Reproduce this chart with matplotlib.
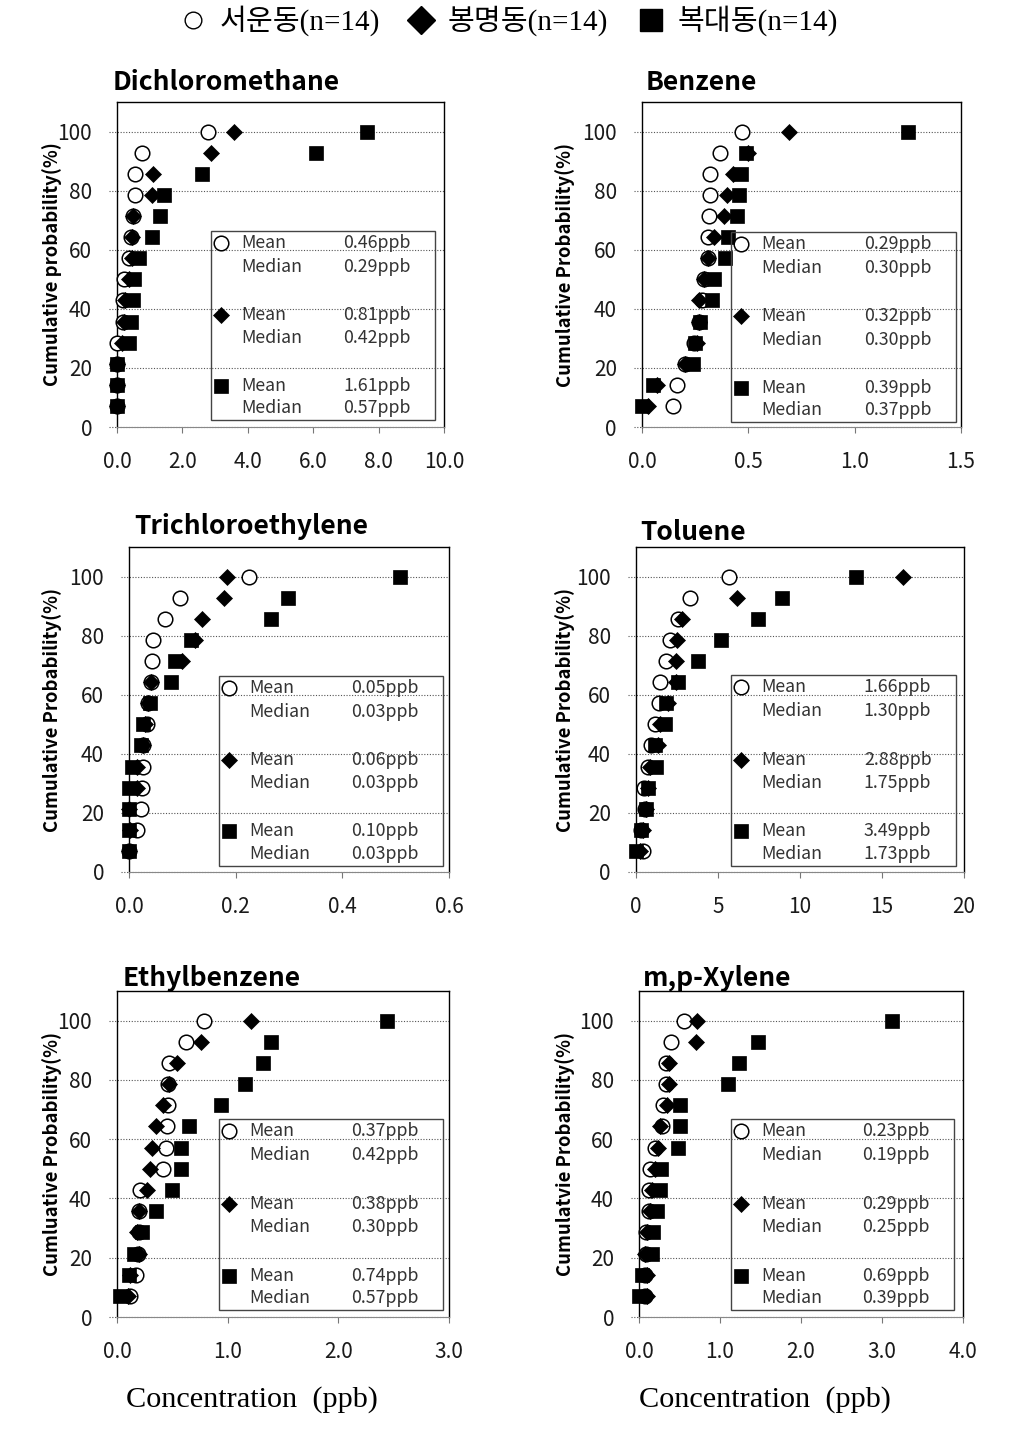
import matplotlib
matplotlib.use("Agg")
import matplotlib.pyplot as plt
from matplotlib.lines import Line2D
from matplotlib.patches import Rectangle

W, H = 1011, 1434

# cumulative probability levels (%), 14 samples per site
cum_prob = [7.1, 14.3, 21.4, 28.6, 35.7, 42.9, 50.0, 57.1, 64.3, 71.4, 78.6, 85.7, 92.9, 100.0]

site_names = ["서운동(n=14)", "봉명동(n=14)", "복대동(n=14)"]

# Dichloromethane
dcm_seoun = [0.0, 0.0, 0.0, 0.0, 0.18, 0.18, 0.21, 0.36, 0.44, 0.48, 0.55, 0.55, 0.75, 2.79]
dcm_bongmyeong = [0.0, 0.0, 0.0, 0.15, 0.2, 0.25, 0.38, 0.46, 0.47, 0.5, 1.08, 1.1, 2.87, 3.57]
dcm_bokdae = [0.0, 0.0, 0.0, 0.36, 0.44, 0.49, 0.51, 0.66, 1.07, 1.31, 1.43, 2.61, 6.08, 7.65]
dcm_stats = [("0.46ppb", "0.29ppb"), ("0.81ppb", "0.42ppb"), ("1.61ppb", "0.57ppb")]

# Benzene
bz_seoun = [0.146, 0.165, 0.2, 0.243, 0.27, 0.28, 0.29, 0.31, 0.31, 0.315, 0.32, 0.32, 0.366, 0.47]
bz_bongmyeong = [0.028, 0.07, 0.2, 0.26, 0.27, 0.27, 0.29, 0.31, 0.34, 0.385, 0.4, 0.43, 0.5, 0.69]
bz_bokdae = [0.0, 0.05, 0.24, 0.25, 0.275, 0.33, 0.34, 0.39, 0.405, 0.445, 0.455, 0.465, 0.49, 1.25]
bz_stats = [("0.29ppb", "0.30ppb"), ("0.32ppb", "0.30ppb"), ("0.39ppb", "0.37ppb")]

# Trichloroethylene
tce_seoun = [0.0, 0.015, 0.022, 0.025, 0.026, 0.026, 0.034, 0.036, 0.042, 0.043, 0.045, 0.068, 0.096, 0.225]
tce_bongmyeong = [0.0, 0.001, 0.0, 0.015, 0.015, 0.026, 0.03, 0.036, 0.042, 0.1, 0.123, 0.137, 0.178, 0.183]
tce_bokdae = [0.0, 0.0, 0.0, 0.0, 0.006, 0.022, 0.026, 0.04, 0.078, 0.087, 0.117, 0.267, 0.298, 0.508]
tce_stats = [("0.05ppb", "0.03ppb"), ("0.06ppb", "0.03ppb"), ("0.10ppb", "0.03ppb")]

# Toluene
tol_seoun = [0.43, 0.33, 0.53, 0.47, 0.73, 0.94, 1.14, 1.4, 1.49, 1.81, 2.05, 2.56, 3.32, 5.66]
tol_bongmyeong = [0.22, 0.43, 0.63, 0.73, 0.83, 1.34, 1.44, 1.95, 2.42, 2.46, 2.5, 2.83, 6.16, 16.3]
tol_bokdae = [0.0, 0.33, 0.63, 0.73, 1.24, 1.14, 1.75, 1.81, 2.56, 3.78, 5.17, 7.45, 8.91, 13.4]
tol_stats = [("1.66ppb", "1.30ppb"), ("2.88ppb", "1.75ppb"), ("3.49ppb", "1.73ppb")]

# Ethylbenzene
eb_seoun = [0.12, 0.17, 0.19, 0.2, 0.2, 0.21, 0.42, 0.44, 0.45, 0.46, 0.46, 0.47, 0.62, 0.79]
eb_bongmyeong = [0.1, 0.12, 0.2, 0.18, 0.2, 0.27, 0.3, 0.32, 0.35, 0.42, 0.47, 0.54, 0.76, 1.21]
eb_bokdae = [0.03, 0.11, 0.15, 0.23, 0.35, 0.5, 0.58, 0.58, 0.65, 0.94, 1.16, 1.32, 1.39, 2.44]
eb_stats = [("0.37ppb", "0.42ppb"), ("0.38ppb", "0.30ppb"), ("0.74ppb", "0.57ppb")]

# m,p-Xylene
xy_seoun = [0.08, 0.08, 0.09, 0.09, 0.12, 0.12, 0.14, 0.2, 0.28, 0.3, 0.33, 0.33, 0.4, 0.55]
xy_bongmyeong = [0.1, 0.1, 0.08, 0.1, 0.13, 0.16, 0.2, 0.24, 0.26, 0.35, 0.37, 0.37, 0.7, 0.72]
xy_bokdae = [0.0, 0.04, 0.16, 0.17, 0.22, 0.26, 0.27, 0.48, 0.51, 0.51, 1.1, 1.24, 1.47, 3.12]
xy_stats = [("0.23ppb", "0.19ppb"), ("0.29ppb", "0.25ppb"), ("0.69ppb", "0.39ppb")]

SANS = ["Noto Sans CJK KR", "DejaVu Sans"]
SERIF = ["Liberation Serif", "Noto Sans CJK KR"]

# panel layout in pixels: (left, right, top, bottom), title (x, y), ylabel x, inset box (x0, x1, ytop, ybot) in axes frac
panels = [
    dict(title="Dichloromethane", ylabel="Cumulative probability(%)", box=(117, 444, 102, 427),
         tpos=(113, 83), ylx=52, inset=(0.287, 0.972, 0.603, 0.022),
         xlim=(0, 10), xticks=[0, 2, 4, 6, 8, 10], fmt="{:.1f}",
         data=(dcm_seoun, dcm_bongmyeong, dcm_bokdae), stats=dcm_stats),
    dict(title="Benzene", ylabel="Cumulative Probability(%)", box=(642, 961, 102, 427),
         tpos=(646, 82), ylx=565, inset=(0.279, 0.984, 0.600, 0.015),
         xlim=(0, 1.5), xticks=[0, 0.5, 1.0, 1.5], fmt="{:.1f}",
         data=(bz_seoun, bz_bongmyeong, bz_bokdae), stats=bz_stats),
    dict(title="Trichloroethylene", ylabel="Cumulative Probability(%)", box=(129, 449, 547, 872),
         tpos=(134, 527), ylx=52, inset=(0.281, 0.981, 0.603, 0.020),
         xlim=(0, 0.6), xticks=[0, 0.2, 0.4, 0.6], fmt="{:.1f}",
         data=(tce_seoun, tce_bongmyeong, tce_bokdae), stats=tce_stats),
    dict(title="Toluene", ylabel="Cumulative Probability(%)", box=(636, 964, 547, 872),
         tpos=(640, 532), ylx=565, inset=(0.290, 0.976, 0.606, 0.020),
         xlim=(0, 20), xticks=[0, 5, 10, 15, 20], fmt="{:.0f}",
         data=(tol_seoun, tol_bongmyeong, tol_bokdae), stats=tol_stats),
    dict(title="Ethylbenzene", ylabel="Cumluative Probability(%)", box=(117, 449, 991, 1317),
         tpos=(123, 978), ylx=52, inset=(0.307, 0.982, 0.607, 0.020),
         xlim=(0, 3), xticks=[0, 1, 2, 3], fmt="{:.1f}",
         data=(eb_seoun, eb_bongmyeong, eb_bokdae), stats=eb_stats),
    dict(title="m,p-Xylene", ylabel="Cumulatvie Probability(%)", box=(639, 963, 991, 1317),
         tpos=(643, 978), ylx=565, inset=(0.284, 0.972, 0.607, 0.020),
         xlim=(0, 4), xticks=[0, 1, 2, 3, 4], fmt="{:.1f}",
         data=(xy_seoun, xy_bongmyeong, xy_bokdae), stats=xy_stats),
]

markers = [
    dict(marker="o", mfc="white", mec="black", mew=1.1, ms=10.5),
    dict(marker="D", mfc="black", mec="black", mew=0.5, ms=8.5),
    dict(marker="s", mfc="black", mec="black", mew=0.5, ms=10),
]

fig = plt.figure(figsize=(W / 100, H / 100), dpi=100)

for p in panels:
    l, r, t, b = p["box"]
    ax = fig.add_axes([l / W, 1 - b / H, (r - l) / W, (b - t) / H])
    ax.set_xlim(*p["xlim"])
    ax.set_ylim(0, 110)

    for yv in [0, 20, 40, 60, 80, 100]:
        ax.axhline(yv, xmin=-0.025, xmax=1, color="#555555", lw=0.8, ls=(0, (1, 1.5)),
                   clip_on=False, zorder=1)

    for xs, st in zip(p["data"], markers):
        ax.plot(xs, cum_prob, ls="none", clip_on=False, zorder=3, **st)

    ax.set_yticks([0, 20, 40, 60, 80, 100])
    ax.set_xticks(p["xticks"])
    ax.set_xticklabels([p["fmt"].format(v) for v in p["xticks"]])
    ax.tick_params(axis="y", length=0, pad=18, labelsize=15)
    ax.tick_params(axis="x", length=4, width=0.8, color="#777777", pad=13, labelsize=15)
    for lab in ax.get_xticklabels() + ax.get_yticklabels():
        lab.set_family(SANS)
        lab.set_color("#1a1a1a")
    for side in ["top", "right", "left"]:
        ax.spines[side].set_color("black")
        ax.spines[side].set_linewidth(1.0)
    ax.spines["bottom"].set_color("#888888")
    ax.spines["bottom"].set_linewidth(0.8)

    # inset with mean / median
    x0, x1, yt, yb = p["inset"]
    ax.add_patch(Rectangle((x0, yb), x1 - x0, yt - yb, transform=ax.transAxes,
                           fill=False, ec="#444444", lw=1.0, zorder=4))
    bw, bh = x1 - x0, yt - yb
    row_off = [0.063, 0.19, 0.444, 0.566, 0.82, 0.937]
    for i, (mean_v, med_v) in enumerate(p["stats"]):
        ym = yt - bh * row_off[2 * i]
        yd = yt - bh * row_off[2 * i + 1]
        ax.plot([x0 + bw * 0.045], [ym], transform=ax.transAxes, ls="none",
                clip_on=False, zorder=5, **markers[i])
        for xf, yy, s in [(0.134, ym, "Mean"), (0.134, yd, "Median"),
                          (0.59, ym, mean_v), (0.59, yd, med_v)]:
            ax.text(x0 + bw * xf, yy, s, transform=ax.transAxes, va="center",
                    fontsize=12.8, family=SANS, color="#333333")

    fig.text(p["tpos"][0] / W, 1 - p["tpos"][1] / H, p["title"], ha="left", va="center",
             fontsize=19, fontweight="bold", family=SANS)
    fig.text(p["ylx"] / W, 1 - (t + b) / 2 / H, p["ylabel"], rotation=90, ha="center",
             va="center", fontsize=13.3, fontweight="bold", family=SANS)

# bottom axis titles
fig.text(252 / W, 1 - 1400 / H, "Concentration  (ppb)", ha="center", va="center",
         fontsize=21.8, family=SERIF)
fig.text(765 / W, 1 - 1400 / H, "Concentration  (ppb)", ha="center", va="center",
         fontsize=21.8, family=SERIF)

# top legend, placed by hand
leg_marker = [
    dict(marker="o", mfc="white", mec="black", mew=1.0, ms=12),
    dict(marker="D", mfc="black", mec="black", ms=14),
    dict(marker="s", mfc="black", mec="black", ms=16),
]
leg_mx = [193, 421, 651]
leg_tx = [220, 448, 678]
for name, st, mx, tx in zip(site_names, leg_marker, leg_mx, leg_tx):
    fig.add_artist(Line2D([mx / W], [1 - 20 / H], ls="none", transform=fig.transFigure, **st))
    fig.text(tx / W, 1 - 21 / H, name, ha="left", va="center", fontsize=21, family=SERIF)

fig.savefig("out.png", dpi=100, facecolor="white")
